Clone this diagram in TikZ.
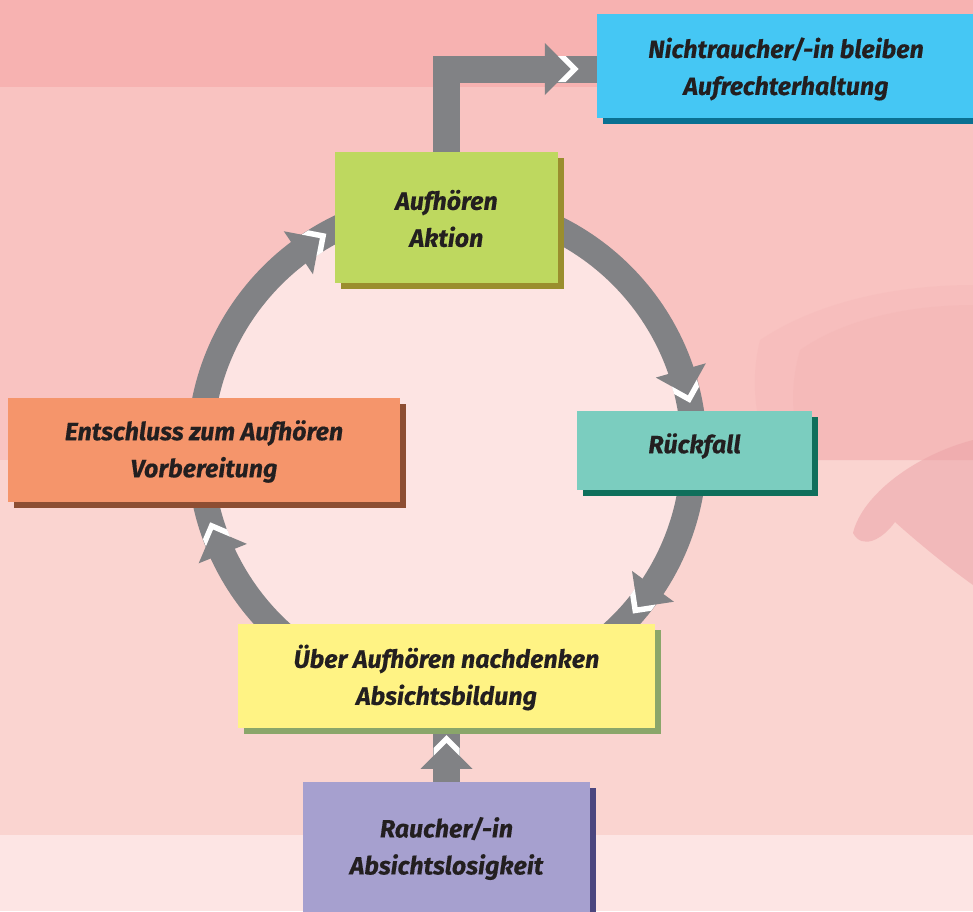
\documentclass[tikz,border=0pt]{standalone}
\usepackage{fontspec}
\setmainfont{Fira Sans}[BoldItalicFeatures={FakeBold=0.4}]
\usetikzlibrary{calc}
\pgfdeclarelayer{bg}
\pgfdeclarelayer{conn}
\pgfsetlayers{bg,conn,main}
\definecolor{bgtop}{HTML}{F7B2B1}
\definecolor{bgmid}{HTML}{F9C3C1}
\definecolor{bglow}{HTML}{FAD4D0}
\definecolor{bgbot}{HTML}{FDE5E4}
\definecolor{innerbg}{HTML}{FDE4E3}
\definecolor{photoA}{HTML}{F3B3B3}
\definecolor{photoB}{HTML}{EDA4A8}
\definecolor{ringgray}{HTML}{818285}
\definecolor{txt}{HTML}{231F20}
\definecolor{cBlue}{HTML}{45C7F4}\definecolor{sBlue}{HTML}{0A7092}
\definecolor{cGreen}{HTML}{BED85F}\definecolor{sGreen}{HTML}{9A8E2E}
\definecolor{cOrange}{HTML}{F5956B}\definecolor{sOrange}{HTML}{8D4E33}
\definecolor{cTeal}{HTML}{7BCDBF}\definecolor{sTeal}{HTML}{0F6F5B}
\definecolor{cYellow}{HTML}{FFF384}\definecolor{sYellow}{HTML}{8AA66A}
\definecolor{cPurple}{HTML}{A6A0CF}\definecolor{sPurple}{HTML}{4B467F}
\tikzset{
  labelfont/.style={text=txt, align=center, inner sep=0pt,
    font=\fontsize{25}{37}\selectfont\bfseries\itshape},
  stagebox/.style 2 args={fill=#1, draw=none, inner sep=0pt,
    preaction={fill=#2, transform canvas={xshift=5.5pt,yshift=-5.5pt}}},
  shaft/.style={draw=ringgray, line width=27pt, line join=miter},
  pics/headmark/.style={code={
    \fill[ringgray] (0pt,26pt) -- (26pt,0pt) -- (0pt,-26pt) -- cycle;
    \fill[white] (13pt,13pt) -- (26pt,0pt) -- (13pt,-13pt) -- (20.8pt,-13pt)
      -- (33.8pt,0pt) -- (20.8pt,13pt) -- cycle;
  }}
}
\begin{document}
\begin{tikzpicture}[x=1pt,y=-1pt]
\useasboundingbox (0,0) rectangle (973,911);
\clip (0,0) rectangle (973,911);
\begin{pgfonlayer}{bg}
% background bands
\fill[bglow] (0,0) rectangle (973,911);
\fill[bgtop] (0,0) rectangle (973,87);
\fill[bgmid] (0,87) rectangle (973,460);
\fill[bgbot] (0,835) rectangle (973,911);
% blurred photo on the right
\fill[photoA, opacity=0.25] (760,340) .. controls (820,300) and (900,285) .. (973,285)
  -- (973,460) -- (770,460) .. controls (755,420) and (750,380) .. (760,340);
\fill[photoA, opacity=0.3] (800,350) .. controls (850,315) and (920,305) .. (973,305)
  -- (973,460) -- (805,460) .. controls (790,420) and (790,385) .. (800,350);
\fill[photoB, opacity=0.55] (853,533) .. controls (862,495) and (915,455) .. (973,440)
  -- (973,585) .. controls (945,565) and (915,540) .. (895,522)
  .. controls (882,540) and (862,550) .. (853,533);
\end{pgfonlayer}
% boxes
\node[stagebox={cBlue}{sBlue}, minimum width=378pt, minimum height=104pt] (nicht) at (786,66) {};
\node[stagebox={cGreen}{sGreen}, minimum width=223pt, minimum height=131pt] (aufh) at (446.5,217.5) {};
\node[stagebox={cOrange}{sOrange}, minimum width=392pt, minimum height=104pt] (ent) at (204,450) {};
\node[stagebox={cTeal}{sTeal}, minimum width=235pt, minimum height=79pt] (rueck) at (694.5,450.5) {};
\node[stagebox={cYellow}{sYellow}, minimum width=417pt, minimum height=104pt] (ueber) at (446.5,676) {};
\node[stagebox={cPurple}{sPurple}, minimum width=287pt, minimum height=130pt] (rauch) at (446.5,847) {};
% labels
\node[labelfont] (nichtt) at ([yshift=-3pt]nicht.center) {Nichtraucher/-in bleiben\\Aufrechterhaltung};
\node[labelfont] (aufht) at ([yshift=-1pt]aufh.center) {Aufhören\\Aktion};
\node[labelfont] (entt) at ([yshift=-1.5pt]ent.center) {Entschluss zum Aufhören\\Vorbereitung};
\node[labelfont] (rueckt) at ([yshift=4.5pt]rueck.center) {Rückfall};
\node[labelfont] (uebert) at ([yshift=-1.5pt]ueber.center) {Über Aufhören nachdenken\\Absichtsbildung};
\node[labelfont] (raucht) at ([yshift=-1.5pt]rauch.center) {Raucher/-in\\Absichtslosigkeit};
% connectors, behind the boxes
\begin{pgfonlayer}{conn}
\coordinate (c) at (447,450);
\fill[innerbg] (c) circle[radius=240pt];
\draw[ringgray, line width=26pt] (c) circle[radius=247pt];
\pic[rotate=34.15] at ($(c)+(127:247pt)$) {headmark};
\pic[rotate=-74.05] at ($(c)+(18.8:247pt)$) {headmark};
\pic[rotate=-126.35] at ($(c)+(-33.5:247pt)$) {headmark};
\pic[rotate=111.95] at ($(c)+(204.8:247pt)$) {headmark};
\draw[shaft] (aufh.north) |- ([yshift=-3pt]nicht.west);
\pic at ($(nicht.west)+(-52,3)$) {headmark};
\draw[shaft] (rauch.north) -- (ueber.south);
\pic[rotate=90] at ($(rauch.north)+(0,-13)$) {headmark};
\end{pgfonlayer}
\end{tikzpicture}
\end{document}
